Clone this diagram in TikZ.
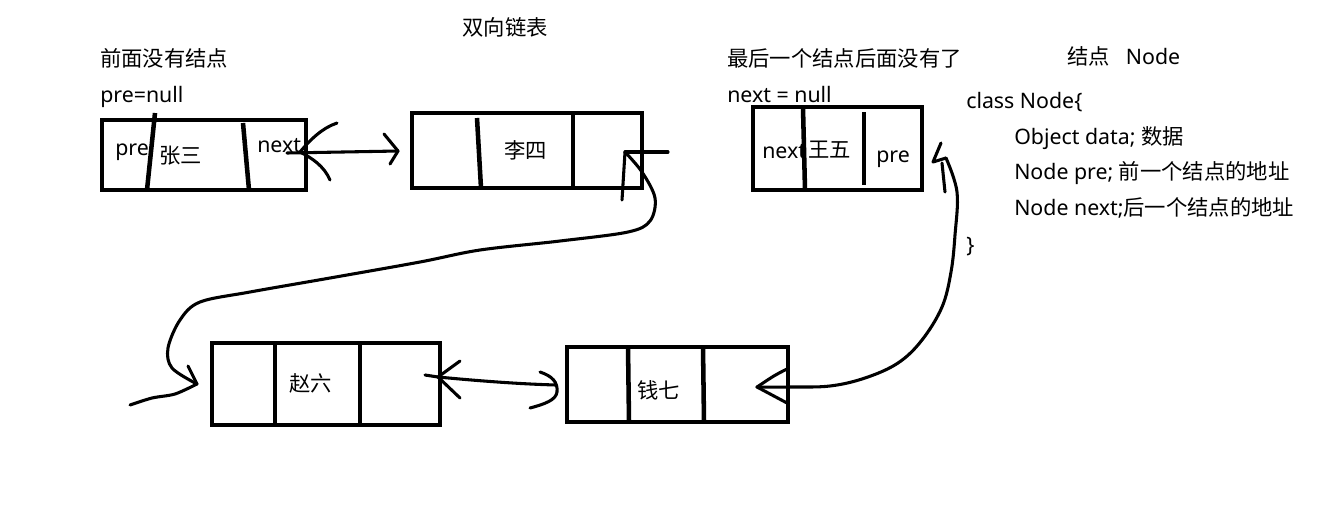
\documentclass[tikz,border=0pt]{standalone}
\usepackage{fontspec}
\setmainfont{Noto Sans}
\newfontfamily\cjk{Noto Sans CJK SC}
\begin{document}
\begin{tikzpicture}[x=0.75pt,y=-0.75pt,
  box/.style={draw, line width=3.6pt, inner sep=0pt},
  divider/.style={line width=3.4pt},
  hand/.style={line width=2.3pt, line cap=round, line join=round},
  lbl/.style={anchor=base west, inner sep=0pt, font=\fontsize{16pt}{19pt}\selectfont}]
\useasboundingbox (0,0) rectangle (1319,522);

% ---- texts ----
\node[lbl, anchor=base] (title) at (505,35) {\cjk 双向链表};
\node[lbl] (t1) at (100,66) {\cjk 前面没有结点};
\node[lbl] (t2) at (100,102) {pre=null};
\node[lbl] (t3) at (727,66) {\cjk 最后一个结点后面没有了};
\node[lbl] (t4) at (727,102) {next = null};
\node[lbl] (t5) at (1067,64) {{\cjk 结点}\hspace{12pt}Node};
\node[lbl] (k1) at (966,108) {class Node\{};
\node[lbl] (k2) at (1014,144) {Object data; {\cjk 数据}};
\node[lbl] (k3) at (1014,179) {Node pre; {\cjk 前一个结点的地址}};
\node[lbl] (k4) at (1014,215) {Node next;{\cjk 后一个结点的地址}};
\node[lbl] (k5) at (966,252) {\}};

% ---- box labels ----
\node[lbl] (p1) at (115,155) {pre};
\node[lbl] (n1) at (159,163) {\cjk 张三};
\node[lbl] (x1) at (257,152) {next};
\node[lbl] (n2) at (504,158) {\cjk 李四};
\node[lbl] (x3) at (762,158) {next};
\node[lbl] (n3) at (808,157) {\cjk 王五};
\node[lbl] (p3) at (876,162) {pre};
\node[lbl] (n4) at (289,391) {\cjk 赵六};
\node[lbl] (n5) at (637,398) {\cjk 钱七};

% ---- boxes ----
\node[box, minimum width=153pt, minimum height=52.5pt] (b1) at (204,155) {};
\node[box, minimum width=172.5pt, minimum height=56.25pt] (b2) at (527,150.5) {};
\node[box, minimum width=126.75pt, minimum height=62.25pt] (b3) at (837.5,148.5) {};
\node[box, minimum width=171pt, minimum height=61.5pt] (b4) at (326,384) {};
\node[box, minimum width=165.75pt, minimum height=56.25pt] (b5) at (677.5,384.5) {};

% ---- dividers ----
\draw[divider] (155,113) -- (147,190);
\draw[divider] (243,123) -- (249,190);
\draw[divider] (477,118) -- (481,188);
\draw[divider] (573,113) -- (573,190);
\draw[divider] (803,108) -- (805,190);
\draw[divider] (864,112) -- (864,185);
\draw[divider] (275,343) -- (275,427);
\draw[divider] (360,343) -- (360,425);
\draw[divider] (628,347) -- (629,422);
\draw[divider] (703,347) -- (704,422);

% ---- connector 1: 张三 <-> 李四 ----
\coordinate (c1s) at (287,153);
\coordinate (c1e) at (398,151);
\draw[hand] (c1s) -- (c1e);
\draw[hand] (337,123) .. controls (322,128) and (310,140) .. (300,152) .. controls (312,158) and (324,166) .. (330,180);
\draw[hand] (384,134) -- (c1e) -- (390,164);

% ---- connector 2: 李四 -> 赵六 ----
\coordinate (c2s) at (625,152);
\coordinate (c2e) at (197,384);
\draw[hand] (c2s) -- (668,152);
\draw[hand] (622,200) -- (c2s);
\draw[hand] plot[smooth, tension=0.55] coordinates {(c2s) (642,172) (655,198) (650,221) (628,232) (560,241) (480,250) (420,262) (330,278) (250,292) (200,302) (180,320) (168,348) (172,368) (c2e)};
\draw[hand] (188,366) -- (c2e);
\draw[hand] plot[smooth] coordinates {(c2e) (175,394) (152,398) (130,405)};

% ---- connector 3: 赵六 <-> 钱七 ----
\coordinate (c3s) at (438,377);
\coordinate (c3e) at (556,385);
\draw[hand] (c3s) .. controls (480,381) and (520,384) .. (c3e);
\draw[hand] (460,361) -- (c3s) -- (460,398);
\draw[hand] (425,375) -- (c3s);
\draw[hand] (540,372) .. controls (552,376) and (558,382) .. (557,392) .. controls (556,400) and (545,404) .. (530,408);

% ---- connector 4: 王五 -> 钱七 ----
\coordinate (c4s) at (941,143);
\coordinate (c4e) at (757,387);
\draw[hand] (c4s) -- (933,162) -- (946,158);
\draw[hand] plot[smooth, tension=0.6] coordinates {(946,158) (957,192) (955,235) (951,272) (942,307) (922,340) (898,363) (865,378) (830,386) (790,387) (c4e)};
\draw[hand] (942,163) -- (945,192);
\draw[hand] (787,369) .. controls (775,375) .. (c4e) -- (787,403);
\end{tikzpicture}
\end{document}
